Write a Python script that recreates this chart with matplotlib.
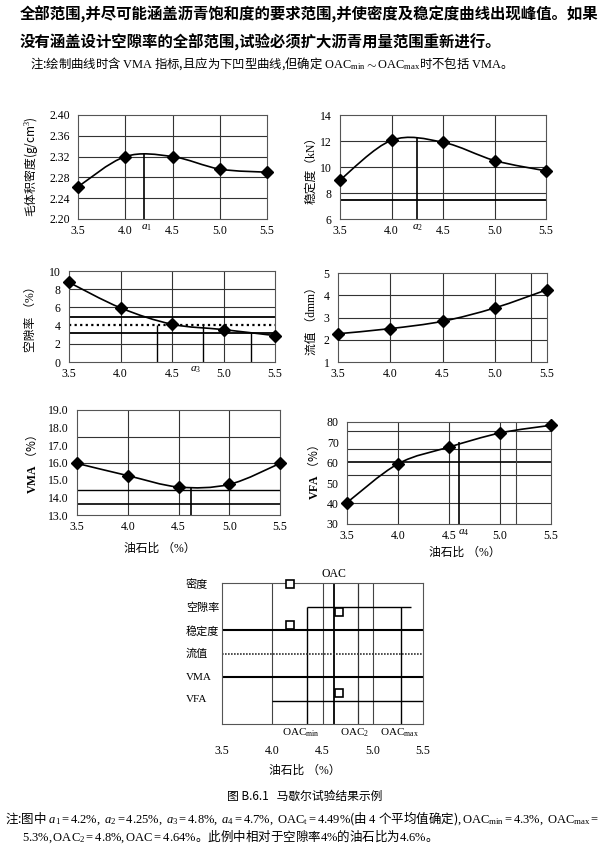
import numpy as np
import matplotlib
matplotlib.use('Agg')
import matplotlib.pyplot as plt
from matplotlib.path import Path
from matplotlib.patches import PathPatch

plt.rcParams['font.family'] = ['Liberation Serif', 'Noto Sans CJK SC']
plt.rcParams['mathtext.fontset'] = 'custom'
plt.rcParams['mathtext.rm'] = 'Liberation Serif'
plt.rcParams['mathtext.it'] = 'Liberation Serif:italic'
plt.rcParams['mathtext.bf'] = 'Liberation Serif:bold'

CJK = 'Noto Sans CJK SC'

# Marshall test data (oil-asphalt ratio, %)
oil = [3.5, 4.0, 4.5, 5.0, 5.5]
density = [2.262, 2.320, 2.320, 2.296, 2.290]
stability = [9.0, 12.05, 11.9, 10.5, 9.7]
voids = [8.75, 5.95, 4.15, 3.56, 2.9]
flow = [2.27, 2.50, 2.83, 3.43, 4.25]
vma = [15.95, 15.25, 14.6, 14.75, 15.95]
vfa = [40.5, 59.5, 67.7, 74.6, 78.4]

# reference / criteria lines
a1, a2, a3, a4 = 4.2, 4.25, 4.73, 4.6
oac_min, oac, oac2, oac_max = 4.35, 4.61, 4.85, 5.28

rows = ['密度', '空隙率', '稳定度', '流值', 'VMA', 'VFA']
row_marks = [4.18, 4.66, 4.18, None, None, 4.66]

W, H = 607, 851
fig = plt.figure(figsize=(W / 100, H / 100), dpi=100)


def px(x, y):
    return x / W, 1 - y / H


def panel(l, t, r, b, ylim, yticks, fmt):
    ax = fig.add_axes([l / W, 1 - b / H, (r - l) / W, (b - t) / H])
    ax.set_xlim(3.5, 5.5)
    ax.set_ylim(*ylim)
    ax.set_xticks(oil)
    ax.set_xticklabels([f'{v:.1f}' for v in oil])
    ax.set_yticks(yticks)
    ax.set_yticklabels([fmt.format(v) for v in yticks])
    ax.tick_params(length=0, labelsize=8.5)
    ax.tick_params(axis='x', pad=4)
    ax.tick_params(axis='y', pad=6)
    for s in ax.spines.values():
        s.set_linewidth(0.8)
        s.set_color('#555')
    for v in (4.0, 4.5, 5.0):
        ax.axvline(v, color='#333', lw=0.8)
    return ax


def curve(ax, xs, ys):
    pts = np.column_stack([xs, ys])
    ext = np.vstack([pts[0], pts, pts[-1]])
    verts = [pts[0]]
    codes = [Path.MOVETO]
    for i in range(len(pts) - 1):
        p0, p1, p2, p3 = ext[i], ext[i + 1], ext[i + 2], ext[i + 3]
        verts += [p1 + (p2 - p0) / 6, p2 - (p3 - p1) / 6, p2]
        codes += [Path.CURVE4] * 3
    ax.add_patch(PathPatch(Path(verts, codes), fill=False, lw=1.2,
                           edgecolor='k', zorder=4))
    ax.plot(xs, ys, 'D', color='k', ms=6, clip_on=False, zorder=5)


# --- 毛体积密度 ---
ax = panel(78, 115, 267, 219, (2.20, 2.40), [2.20, 2.24, 2.28, 2.32, 2.36, 2.40], '{:.2f}')
for v in (2.24, 2.28, 2.32, 2.36):
    ax.axhline(v, color='#333', lw=0.8)
ax.vlines(a1, 2.20, 2.326, color='k', lw=1.2)
curve(ax, oil, density)
ax.text(a1 + 0.02, -0.03, '$a_1$', transform=ax.get_xaxis_transform(),
        ha='center', va='top', fontsize=8)
fig.text(*px(31, 167), '毛体积密度(g/cm$^3$)', rotation=90, ha='center',
         va='center', fontsize=8.5, family=CJK)

# --- 稳定度 ---
ax = panel(340, 115, 546, 219, (6, 14), [6, 8, 10, 12, 14], '{:d}')
for v in (8, 10, 12):
    ax.axhline(v, color='#333', lw=0.8)
ax.axhline(7.5, color='k', lw=1.3)
ax.vlines(a2, 6, 12.25, color='k', lw=1.2)
curve(ax, oil, stability)
ax.text(a2, -0.03, '$a_2$', transform=ax.get_xaxis_transform(),
        ha='center', va='top', fontsize=8)
fig.text(*px(311, 167), '稳定度（kN）', rotation=90, ha='center',
         va='center', fontsize=8.5)

# --- 空隙率 ---
ax = panel(69, 271, 275, 362, (0, 10), [0, 2, 4, 6, 8, 10], '{:d}')
for v in (2, 6, 8):
    ax.axhline(v, color='#333', lw=0.8)
ax.axhline(4.9, color='k', lw=1.3)
ax.axhline(4.05, color='k', lw=1.6, ls=(0, (1, 1.5)))
ax.axhline(3.2, color='k', lw=1.3)
ax.vlines([oac_min, 4.8], 0, 4.05, color='k', lw=1.0)
ax.vlines(oac_max - 0.01, 0, 3.2, color='k', lw=1.0)
curve(ax, oil, voids)
ax.text(a3, -0.03, '$a_3$', transform=ax.get_xaxis_transform(),
        ha='center', va='top', fontsize=8)
fig.text(*px(31, 316), '空隙率 （%）', rotation=90, ha='center',
         va='center', fontsize=8.5)

# --- 流值 ---
ax = panel(338, 273, 547, 362, (1, 5), [1, 2, 3, 4, 5], '{:d}')
for v in (2, 3, 4):
    ax.axhline(v, color='#333', lw=0.8)
ax.axvline(5.35, color='#333', lw=0.8)
curve(ax, oil, flow)
fig.text(*px(312, 318), '流值 （dmm）', rotation=90, ha='center',
         va='center', fontsize=8.5)

# --- VMA ---
ax = panel(77, 410, 280, 515, (13, 19), [13, 14, 15, 16, 17, 18, 19], '{:.1f}')
for v in (17.45, 15.95):
    ax.axhline(v, color='#333', lw=0.8)
ax.axhline(14.4, color='k', lw=1.0)
ax.axhline(13.6, color='k', lw=1.2)
ax.vlines(4.62, 13, 14.62, color='k', lw=1.2)
curve(ax, oil, vma)
fig.text(*px(31, 465), r'$\mathbf{VMA}$ （%）', rotation=90, ha='center',
         va='center', fontsize=8.5, family=CJK)
fig.text(*px(160, 549), '油石比 （%）', ha='center', va='center',
         fontsize=8.5)

# --- VFA ---
ax = panel(347, 422, 551, 524, (30, 80), [30, 40, 50, 60, 70, 80], '{:d}')
for v in (75.5, 67, 54, 40.5):
    ax.axhline(v, color='#333', lw=0.8)
ax.axhline(60.5, color='k', lw=1.2)
ax.axvline(5.16, color='#444', lw=0.8)
ax.vlines(a4, 30, 70, color='k', lw=1.2)
curve(ax, oil, vfa)
ax.text(a4 + 0.04, -0.03, '$a_4$', transform=ax.get_xaxis_transform(),
        ha='center', va='top', fontsize=8)
fig.text(*px(313, 472), r'$\mathbf{VFA}$ （%）', rotation=90, ha='center',
         va='center', fontsize=8.5, family=CJK)
fig.text(*px(465, 553), '油石比 （%）', ha='center', va='center',
         fontsize=8.5)

# --- OAC summary ---
ax = fig.add_axes([222 / W, 1 - 724 / H, (423 - 222) / W, (724 - 583) / H])
ax.set_xlim(3.5, 5.5)
ax.set_ylim(0, 6)
ax.set_xticks(oil)
ax.set_xticklabels([f'{v:.1f}' for v in oil])
ax.set_yticks([])
ax.tick_params(length=0, labelsize=8.5, pad=15)
for s in ax.spines.values():
    s.set_linewidth(0.8)
    s.set_color('#555')
for v in (4.0, 4.5, 5.0):
    ax.axvline(v, color='#444', lw=0.8)
ax.vlines([oac_min, oac_max], 0, 5, color='k', lw=1.0)
ax.axvline(oac, color='k', lw=1.3)
ax.axvline(oac2, color='#333', lw=0.9)
ax.hlines(5, oac_min, 5.38, color='k', lw=1.0)
ax.axhline(4, color='k', lw=1.5)
ax.axhline(3, color='#333', lw=1.2, ls=(0, (1, 0.8)))
ax.axhline(2, color='k', lw=1.5)
ax.hlines(1, 4.0, 5.5, color='k', lw=1.0)
offs = [-0.05, -0.25, 0.2, 0, 0, 0.3]
for i, (name, xm) in enumerate(zip(rows, row_marks)):
    yr = 6 - i
    fig.text(*px(186, 585 + i * 23), name, ha='left', va='center',
             fontsize=8)
    if xm is not None:
        ax.plot(xm, yr + offs[i], 's', ms=5.5, mfc='white', mec='k',
                mew=1.2, clip_on=False, zorder=5)
ax.text(oac, 1.02, 'OAC', transform=ax.get_xaxis_transform(), ha='center',
        va='bottom', fontsize=8.5)
for xv, lab in ((4.28, r'$\mathrm{OAC_{min}}$'), (4.82, r'$\mathrm{OAC_2}$'),
                (5.27, r'$\mathrm{OAC_{max}}$')):
    ax.text(xv, -0.065, lab, transform=ax.get_xaxis_transform(),
            ha='center', va='center', fontsize=8)
fig.text(*px(305, 771), '油石比 （%）', ha='center', va='center',
         fontsize=8.5)

# --- page text ---
fig.text(*px(20, 14), '全部范围,并尽可能涵盖沥青饱和度的要求范围,并使密度及稳定度曲线出现峰值。如果',
         ha='left', va='center', fontsize=11.1, family=CJK, fontweight='bold')
fig.text(*px(20, 42), '没有涵盖设计空隙率的全部范围,试验必须扩大沥青用量范围重新进行。',
         ha='left', va='center', fontsize=11.1, family=CJK, fontweight='bold')
fig.text(*px(30, 64), r'注:绘制曲线时含 $\mathrm{VMA}$ 指标,且应为下凹型曲线,但确定 '
         r'$\mathrm{OAC_{min}\sim OAC_{max}}$时不包括 $\mathrm{VMA}$。',
         ha='left', va='center', fontsize=8.9, family=CJK)
fig.text(*px(305, 796), '图 B.6.1   马歇尔试验结果示例', ha='center', va='center',
         fontsize=8.5, family=CJK)
fig.text(*px(5, 818), r'注:图中 $a_1=4.2\%,\ a_2=4.25\%,\ a_3=4.8\%,\ a_4=4.7\%,\ '
         r'\mathrm{OAC_t}=4.49\%$(由 $4$ 个平均值确定)$,\mathrm{OAC_{min}}=4.3\%,\ '
         r'\mathrm{OAC_{max}}=$',
         ha='left', va='center', fontsize=9.0, family=CJK)
fig.text(*px(22, 836), r'$5.3\%,\mathrm{OAC_2}=4.8\%,\mathrm{OAC}=4.64\%$。'
         r'此例中相对于空隙率$4\%$的油石比为$4.6\%$。',
         ha='left', va='center', fontsize=9.0, family=CJK)

fig.savefig('out.png', dpi=100)
